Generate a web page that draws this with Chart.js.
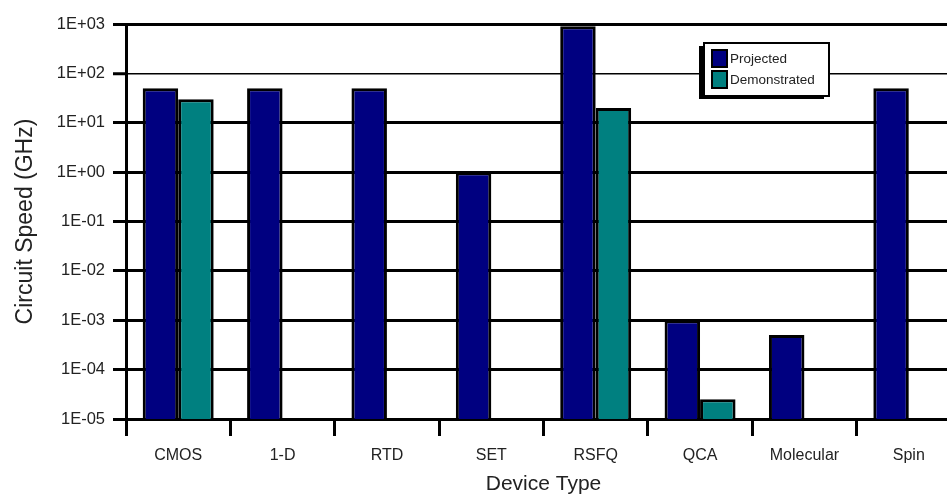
<!DOCTYPE html>
<html>
<head>
<meta charset="utf-8">
<script src="https://cdn.jsdelivr.net/npm/chart.js@4"></script>
<style>
html,body{margin:0;padding:0;background:#fff;overflow:hidden;}
#wrap{width:961px;height:497px;}
</style>
</head>
<body>
<div id="wrap"><canvas id="c" width="961" height="497"></canvas></div>
<script>
const categories = ['CMOS', '1-D', 'RTD', 'SET', 'RSFQ', 'QCA', 'Molecular', 'Spin'];
const projected = [50, 50, 50, 1, 900, 0.001, 0.0005, 50];
const demonstrated = [30, null, null, null, 20, 0.000025, null, null];
const yTickValues = [1e-5, 1e-4, 1e-3, 1e-2, 1e-1, 1e0, 1e1, 1e2, 1e3];
const yTickLabels = ['1E-05', '1E-04', '1E-03', '1E-02', '1E-01', '1E+00', '1E+01', '1E+02', '1E+03'];
const seriesLabels = ['Projected', 'Demonstrated'];
const seriesColors = ['#000080', '#008080'];

const FONT = "'Liberation Sans', Arial, sans-serif";

const legendBox = {
  id: 'legendBox',
  afterDraw(chart) {
    const ctx = chart.ctx;
    const x = 704, y = 43, w = 125, h = 53;
    ctx.save();
    ctx.fillStyle = '#000';
    ctx.fillRect(x - 5, y + 3, w, h);
    ctx.fillStyle = '#fff';
    ctx.fillRect(x, y, w, h);
    ctx.strokeStyle = '#000';
    ctx.lineWidth = 2;
    ctx.strokeRect(x, y, w, h);
    chart.data.datasets.forEach((ds, i) => {
      const sy = y + 7 + i * 21;
      ctx.fillStyle = ds.backgroundColor;
      ctx.fillRect(x + 8, sy, 15, 17);
      ctx.lineWidth = 2;
      ctx.strokeStyle = '#000';
      ctx.strokeRect(x + 8, sy, 15, 17);
      ctx.fillStyle = '#222';
      ctx.font = '13.5px ' + FONT;
      ctx.textBaseline = 'middle';
      ctx.textAlign = 'left';
      ctx.fillText(ds.label, x + 26, sy + 9);
    });
    ctx.restore();
  }
};

new Chart(document.getElementById('c'), {
  type: 'bar',
  data: {
    labels: categories,
    datasets: [
      { label: seriesLabels[0], data: projected, backgroundColor: seriesColors[0], borderColor: '#000', borderWidth: 3, borderSkipped: 'bottom' },
      { label: seriesLabels[1], data: demonstrated, backgroundColor: seriesColors[1], borderColor: '#000', borderWidth: 3, borderSkipped: 'bottom' }
    ]
  },
  options: {
    responsive: false,
    animation: false,
    events: [],
    layout: { padding: { top: 24, left: 0, right: 0, bottom: 0 } },
    datasets: { bar: { categoryPercentage: 0.68, barPercentage: 1.0 } },
    plugins: { legend: { display: false }, tooltip: { enabled: false } },
    scales: {
      x: {
        offset: true,
        grid: { offset: true, drawOnChartArea: false, drawTicks: true, tickLength: 17, tickWidth: 3, tickColor: '#000', color: '#000' },
        border: { display: true, color: '#000', width: 3 },
        ticks: { color: '#222', font: { family: FONT, size: 16 }, padding: 10 },
        title: { display: true, text: 'Device Type', color: '#222', font: { family: FONT, size: 21 }, padding: { top: 7, bottom: 0 } },
        afterFit(scale) { scale.height = 78; }
      },
      y: {
        type: 'logarithmic',
        min: 1e-5,
        max: 1e3,
        afterBuildTicks(scale) { scale.ticks = yTickValues.map(v => ({ value: v })); },
        ticks: {
          color: '#222',
          font: { family: FONT, size: 16.5 },
          padding: 8,
          autoSkip: false,
          callback(v) { const i = yTickValues.findIndex(t => Math.abs(Math.log10(t) - Math.log10(v)) < 1e-6); return i >= 0 ? yTickLabels[i] : ''; }
        },
        grid: {
          color: '#000',
          lineWidth: ctx => (ctx.tick && ctx.tick.value === 100 ? 1.5 : 3),
          tickLength: 13,
          tickWidth: 3,
          tickColor: '#000'
        },
        border: { display: true, color: '#000', width: 3 },
        title: { display: true, text: 'Circuit Speed (GHz)', color: '#222', font: { family: FONT, size: 23 }, padding: { top: 12, bottom: 0 } },
        afterFit(scale) { scale.width = 126; }
      }
    }
  },
  plugins: [legendBox]
});
</script>
</body>
</html>
